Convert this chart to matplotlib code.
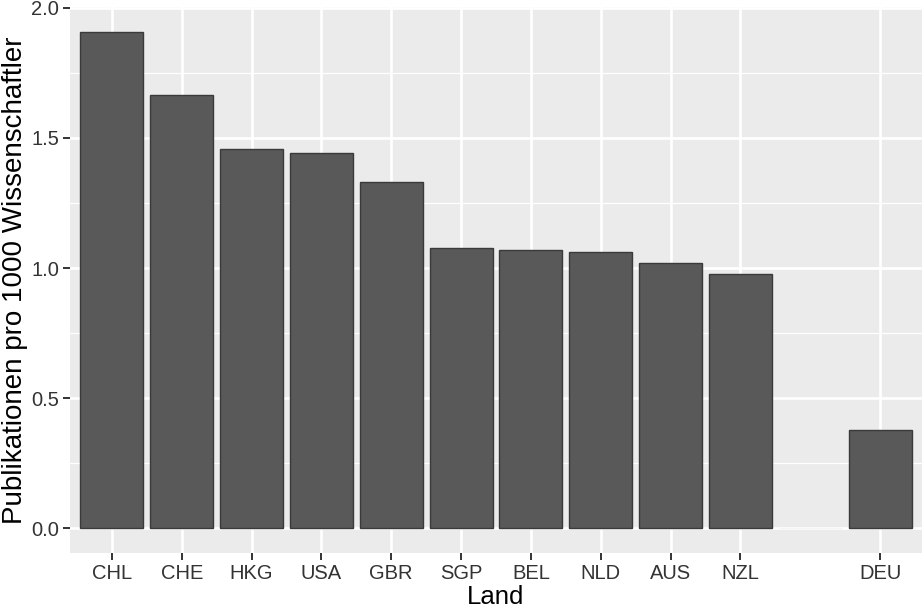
import matplotlib.pyplot as plt
import numpy as np

plt.rcParams['font.family'] = ['Liberation Sans', 'DejaVu Sans']

# Publikationen pro 1000 Wissenschaftler, nach Land (one empty slot before DEU)
countries = ["CHL", "CHE", "HKG", "USA", "GBR", "SGP", "BEL", "NLD", "AUS", "NZL", "", "DEU"]
values = [1.908, 1.664, 1.457, 1.441, 1.329, 1.077, 1.070, 1.063, 1.021, 0.978, 0.0, 0.377]
y_ticks = [0.0, 0.5, 1.0, 1.5, 2.0]

fig = plt.figure(figsize=(9.22, 6.08), dpi=100)
ax = fig.add_axes([70 / 922, 55 / 608, 852 / 922, 546 / 608])
ax.set_facecolor("#EBEBEB")

pos = np.arange(1, len(countries) + 1)
labelled = [p for p, c in zip(pos, countries) if c]

# grid
for y in np.arange(0.25, 2.0, 0.5):
    ax.axhline(y, color="white", lw=0.9, zorder=0)
for y in y_ticks:
    ax.axhline(y, color="white", lw=1.9, zorder=0)
for x in labelled:
    ax.axvline(x, color="white", lw=1.9, zorder=0)

edges = ["#3A3A3A" if c else "#F4F4F4" for c in countries]
ax.bar(pos, values, width=0.9, color="#595959", edgecolor=edges, linewidth=1.0, zorder=2)

ymax = max(values)
ax.set_ylim(-0.05 * ymax, ymax * 1.05)
ax.set_xlim(0.4, len(countries) + 0.6)

ax.set_xticks(labelled)
ax.set_xticklabels([c for c in countries if c])
ax.set_yticks(y_ticks)
ax.set_yticklabels([f"{v:.1f}" for v in y_ticks])
ax.tick_params(axis="both", length=5, width=1.4, color="#333333",
               labelcolor="#333333", labelsize=14.5, pad=3)

for s in ax.spines.values():
    s.set_visible(False)

ax.set_xlabel("Land", fontsize=18.5, color="black", labelpad=1)
ax.set_ylabel("Publikationen pro 1000 Wissenschaftler", fontsize=20, color="black", labelpad=2)

fig.savefig("out.png", dpi=100)
